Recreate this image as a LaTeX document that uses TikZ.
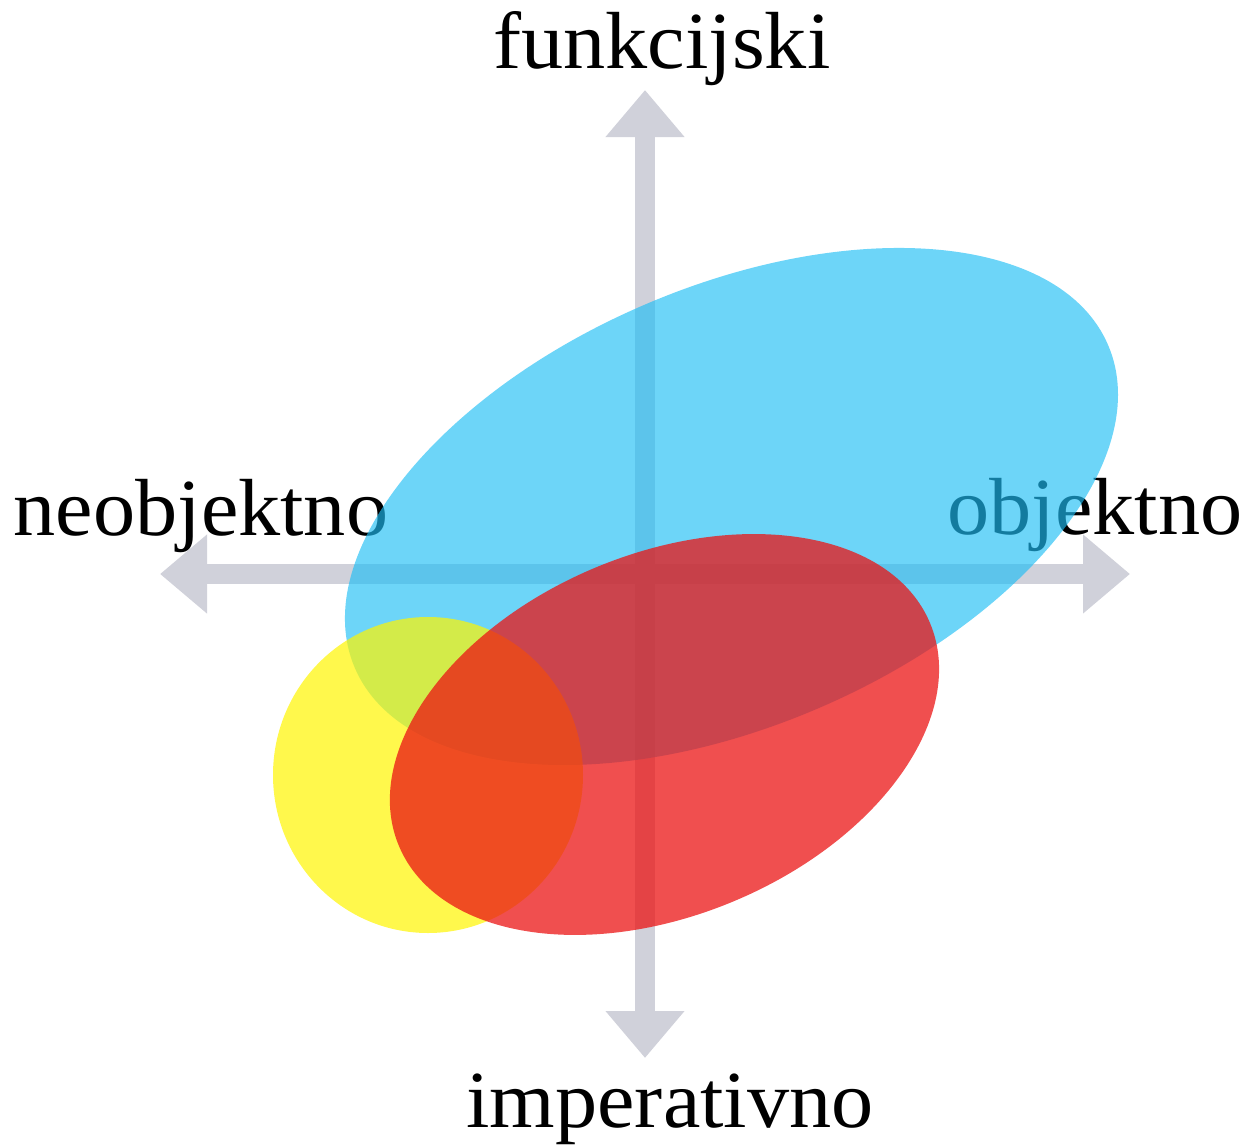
\documentclass[tikz,border=0pt]{standalone}
\usepackage{fontspec}
\setmainfont[FakeStretch=1.04]{Liberation Serif}
\usetikzlibrary{arrows.meta}
\definecolor{axisgray}{RGB}{208,209,218}
\definecolor{blueel}{RGB}{30,190,245}
\definecolor{yellowel}{RGB}{255,245,0}
\definecolor{redel}{RGB}{235,20,20}
\tikzset{
  axis/.style={draw=axisgray, line width=10pt,
    {Triangle[width=38pt,length=23.5pt]}-{Triangle[width=38pt,length=23.5pt]}},
  lbl/.style={anchor=base, inner sep=0pt, font=\fontsize{40.5}{48}\selectfont}
}
\begin{document}
\begin{tikzpicture}[x=0.5pt,y=-0.5pt]
\useasboundingbox (0,0) rectangle (1249,1146);
% axes
\coordinate (top) at (645,90);
\coordinate (bot) at (645,1058);
\coordinate (lft) at (160,574);
\coordinate (rgt) at (1130,574);
\draw[axis] (bot) -- (top);
\draw[axis] (lft) -- (rgt);
% labels
\node[lbl] (funk) at (662,68) {funkcijski};
\node[lbl] (obj) at (1095,534) {objektno};
\node[lbl] (neobj) at (201,535) {neobjektno};
\node[lbl] (imp) at (670,1127) {imperativno};
% ellipses
\coordinate (bc) at (731.5,506.5);
\coordinate (yc) at (428,775);
\coordinate (rc) at (664.5,734.5);
\fill[blueel, fill opacity=0.65, rotate around={23.2:(bc)}] (bc) ellipse [x radius=204.9pt, y radius=109.85pt];
\fill[yellowel, fill opacity=0.7] (yc) ellipse [x radius=77.5pt, y radius=79pt];
\fill[redel, fill opacity=0.75, rotate around={22.8:(rc)}] (rc) ellipse [x radius=144pt, y radius=90.3pt];
\end{tikzpicture}
\end{document}
